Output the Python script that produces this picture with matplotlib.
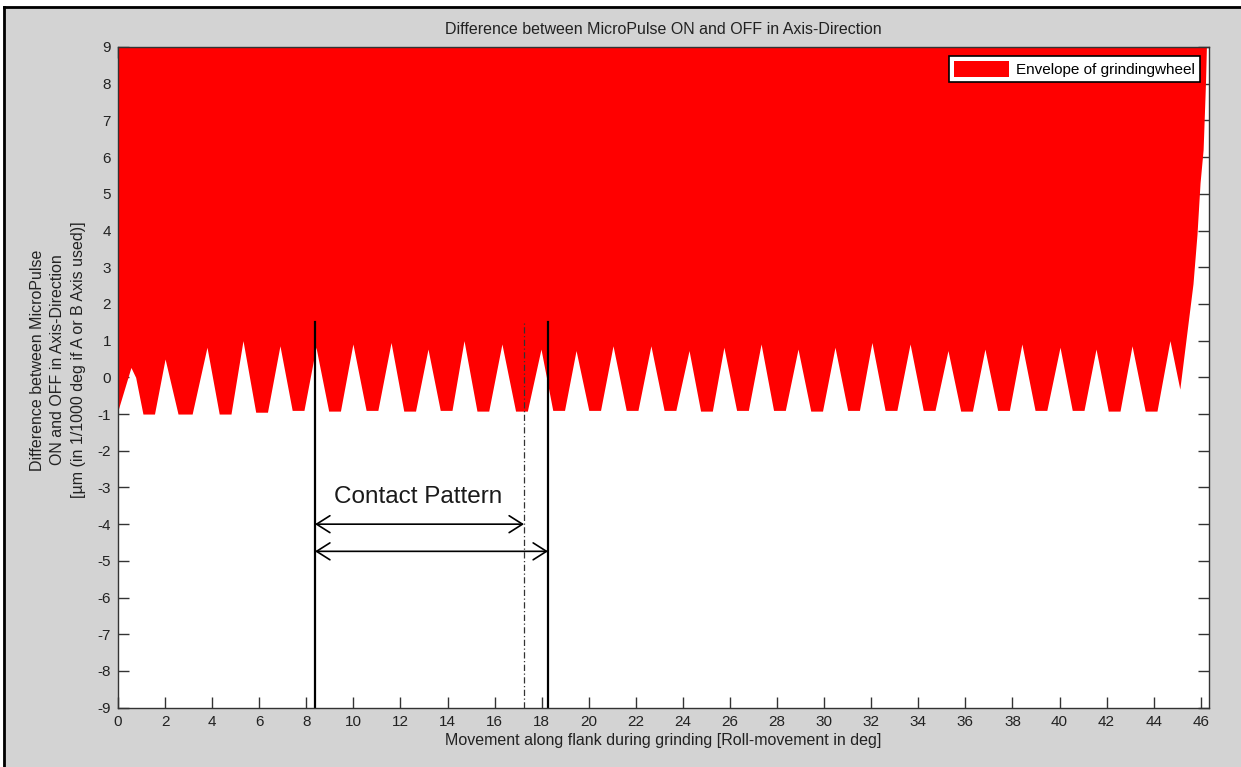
import matplotlib
matplotlib.use("Agg")
import matplotlib.pyplot as plt
from matplotlib.patches import Rectangle
from matplotlib.lines import Line2D

plt.rcParams['font.family'] = ['Liberation Sans', 'DejaVu Sans']

# lower boundary of the grinding wheel envelope
env_x = [0.0, 0.55, 0.75, 1.06, 1.55,
         2.0, 2.55, 3.15,
         3.78, 4.3, 4.8,
         5.31, 5.85, 6.35,
         6.88, 7.4, 7.9,
         8.41, 8.95, 9.45,
         9.98, 10.54, 11.04,
         11.6, 12.14, 12.64,
         13.17, 13.69, 14.19,
         14.7, 15.25, 15.75,
         16.31, 16.89, 17.39,
         17.97, 18.47, 18.97,
         19.46, 20.0, 20.5,
         21.03, 21.59, 22.09,
         22.64, 23.2, 23.7,
         24.26, 24.75, 25.25,
         25.74, 26.28, 26.78,
         27.32, 27.85, 28.35,
         28.89, 29.43, 29.93,
         30.46, 31.0, 31.5,
         32.03, 32.59, 33.09,
         33.65, 34.21, 34.71,
         35.26, 35.8, 36.3,
         36.83, 37.37, 37.87,
         38.4, 38.96, 39.46,
         40.02, 40.54, 41.04,
         41.55, 42.07, 42.57,
         43.08, 43.64, 44.14,
         44.69, 45.11, 45.67, 45.84, 45.97, 46.1, 46.2, 46.24]
env_y = [-0.9, 0.27, 0.0, -1.0, -1.0,
         0.5, -1.0, -1.0,
         0.82, -1.0, -1.0,
         1.0, -0.95, -0.95,
         0.86, -0.9, -0.9,
         0.82, -0.92, -0.92,
         0.91, -0.9, -0.9,
         0.95, -0.92, -0.92,
         0.77, -0.9, -0.9,
         1.0, -0.92, -0.92,
         0.91, -0.92, -0.92,
         0.77, -0.9, -0.9,
         0.73, -0.9, -0.9,
         0.86, -0.9, -0.9,
         0.86, -0.9, -0.9,
         0.73, -0.92, -0.92,
         0.82, -0.9, -0.9,
         0.91, -0.9, -0.9,
         0.77, -0.92, -0.92,
         0.82, -0.9, -0.9,
         0.95, -0.9, -0.9,
         0.91, -0.9, -0.9,
         0.73, -0.92, -0.92,
         0.77, -0.9, -0.9,
         0.91, -0.9, -0.9,
         0.82, -0.9, -0.9,
         0.77, -0.92, -0.92,
         0.86, -0.92, -0.92,
         1.0, -0.32, 2.55, 3.9, 5.3, 6.2, 8.0, 9.0]

# contact pattern markers
solid_lines = [8.37, 18.27]
dashdot_line = 17.25
line_top = 1.5
arrow_short = (8.37, 17.25, -4.0)
arrow_long = (8.37, 18.27, -4.74)

xticks = list(range(0, 47, 2))
yticks = list(range(-9, 10))

W, H = 1241, 767
fig = plt.figure(figsize=(W / 100, H / 100), dpi=100)
fig.patch.set_facecolor('#d3d3d3')

# white margin + black frame at top/left
fig.add_artist(Rectangle((0, 1 - 6 / H), 1, 6 / H, transform=fig.transFigure,
                         facecolor='white', edgecolor='none'))
fig.add_artist(Rectangle((0, 0), 3 / W, 1, transform=fig.transFigure,
                         facecolor='white', edgecolor='none'))
fig.add_artist(Line2D([4 / W, 4 / W], [0, 1 - 7 / H], transform=fig.transFigure,
                      color='black', lw=2))
fig.add_artist(Line2D([4 / W, 1], [1 - 7 / H, 1 - 7 / H], transform=fig.transFigure,
                      color='black', lw=2))

ax = fig.add_axes([118 / W, 1 - 707.7 / H, 1091 / W, 660.7 / H])
ax.set_facecolor('white')
ax.set_axisbelow(True)

ax.fill_between(env_x, env_y, 9, color='#ff0000', lw=0,
                label='Envelope of grindingwheel', zorder=1)

for xv in solid_lines:
    ax.plot([xv, xv], [-9, line_top], color='black', lw=1.6, zorder=3)
ax.plot([dashdot_line, dashdot_line], [-9, line_top], color='#333333', lw=0.9,
        linestyle=(0, (5, 2, 1, 2)), zorder=3)

arrow_kw = dict(arrowstyle='<->,head_length=0.6,head_width=0.38', color='black',
                lw=1.2, shrinkA=0, shrinkB=0, mutation_scale=16)
for x0, x1, yy in [arrow_short, arrow_long]:
    ax.annotate('', xy=(x1, yy), xytext=(x0, yy), arrowprops=arrow_kw, zorder=4)

ax.text(12.75, -3.25, 'Contact Pattern', fontsize=17.5, ha='center', va='center',
        color='#1a1a1a', zorder=4)

ax.set_xlim(0, 46.35)
ax.set_ylim(-9, 9)
ax.set_xticks(xticks)
ax.set_yticks(yticks)
ax.set_xticklabels([str(t) for t in xticks])
ax.set_yticklabels([str(t) for t in yticks])
ax.tick_params(direction='in', length=8, width=1, colors='#333333',
               labelcolor='#222222', labelsize=11, top=True, right=True, pad=5)
for s in ax.spines.values():
    s.set_color('#333333')
    s.set_linewidth(1)
    s.set_zorder(5)

ax.set_title('Difference between MicroPulse ON and OFF in Axis-Direction',
             fontsize=11.5, color='#222222', pad=9)
ax.set_xlabel('Movement along flank during grinding [Roll-movement in deg]',
              fontsize=11.5, color='#222222', labelpad=3)
fig.text(58 / W, 1 - 360 / H,
         'Difference between MicroPulse\nON and OFF in Axis-Direction\n'
         '[µm (in 1/1000 deg if A or B Axis used)]',
         rotation=90, ha='center', va='center', fontsize=11.5, color='#222222',
         linespacing=1.45, multialignment='center')

leg = ax.legend(loc='upper right', fontsize=11, fancybox=False, framealpha=1,
                edgecolor='black', handlelength=3.6, handleheight=1.3,
                borderaxespad=0.6, borderpad=0.3, handletextpad=0.5)
leg.get_frame().set_linewidth(1.2)

fig.savefig('out.png', dpi=100, facecolor=fig.get_facecolor())
